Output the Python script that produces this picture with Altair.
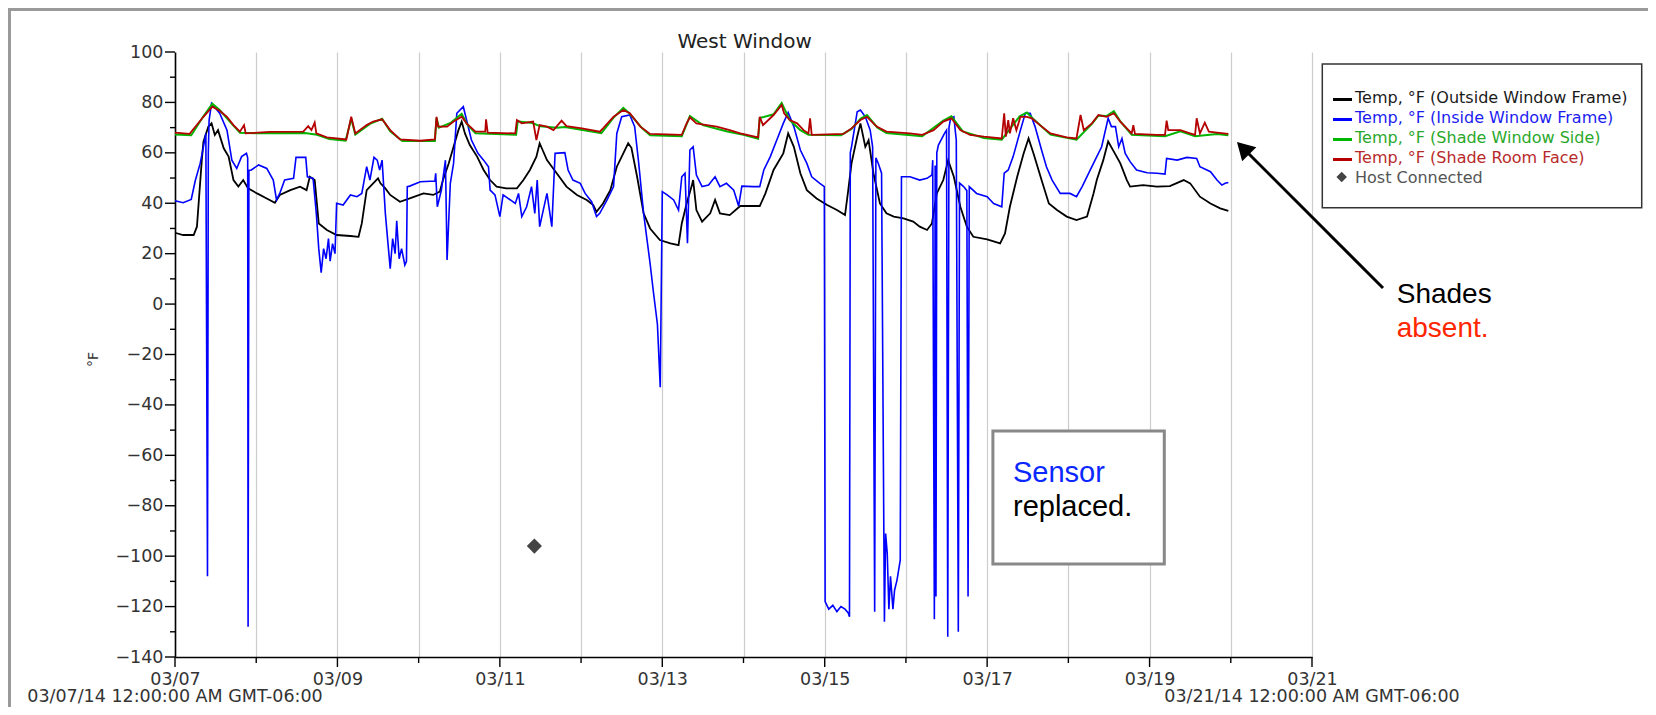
import altair as alt
import pandas as pd

# ---------------- data ----------------
tick_labels = ["03/07", "", "03/09", "", "03/11", "", "03/13", "", "03/15", "", "03/17", "", "03/19", "", "03/21"]
x_tick_days = list(range(15))
x_major_days = list(range(0, 15, 2))
x_minor_days = list(range(1, 15, 2))
y_major_values = list(range(-140, 101, 20))
y_minor_values = list(range(-130, 91, 20))
range_days = [0, 14]
range_labels = ["03/07/14 12:00:00 AM GMT-06:00", "03/21/14 12:00:00 AM GMT-06:00"]

series_names = ["Temp, °F (Outside Window Frame)", "Temp, °F (Inside Window Frame)",
                "Temp, °F (Shade Window Side)", "Temp, °F (Shade Room Face)"]
series_colors = ["#000000", "#0000ff", "#00b400", "#b40000"]
label_colors = ["#1a1a1a", "#1c1cf0", "#2aa82a", "#b82a2a"]

outside_day = [0.00, 0.10, 0.23, 0.27, 0.33, 0.35, 0.41, 0.45, 0.49, 0.53, 0.60, 0.66, 0.72, 0.78, 0.84, 0.90,
               1.01, 1.13, 1.23, 1.29, 1.42, 1.54, 1.62, 1.66, 1.72, 1.77, 1.87, 1.99, 2.16, 2.26, 2.30, 2.36,
               2.44, 2.50, 2.53, 2.59, 2.65, 2.77, 2.89, 3.06, 3.18, 3.26, 3.30, 3.37, 3.43, 3.49, 3.53, 3.57,
               3.63, 3.72, 3.80, 3.88, 3.96, 4.08, 4.21, 4.29, 4.37, 4.45, 4.49, 4.58, 4.70, 4.82, 4.95, 5.07,
               5.15, 5.19, 5.27, 5.36, 5.44, 5.52, 5.58, 5.62, 5.69, 5.77, 5.85, 5.97, 6.10, 6.20, 6.24, 6.30,
               6.36, 6.38, 6.42, 6.49, 6.59, 6.65, 6.71, 6.83, 6.96, 7.20, 7.27, 7.37, 7.49, 7.55, 7.62, 7.70,
               7.78, 7.90, 8.03, 8.15, 8.25, 8.29, 8.33, 8.40, 8.44, 8.50, 8.54, 8.60, 8.68, 8.76, 8.85, 8.97,
               9.09, 9.17, 9.26, 9.32, 9.38, 9.46, 9.52, 9.59, 9.67, 9.75, 9.83, 10.00, 10.16, 10.22, 10.28,
               10.37, 10.45, 10.51, 10.57, 10.67, 10.76, 10.86, 10.98, 11.10, 11.23, 11.31, 11.35, 11.43, 11.49,
               11.56, 11.64, 11.72, 11.76, 11.92, 12.09, 12.25, 12.42, 12.50, 12.62, 12.75, 12.87, 12.97]
outside_temp = [28.3, 27.4, 27.4, 30.7, 57.1, 64.4, 70.4, 71.7, 67.1, 69.0, 61.8, 58.5, 49.2, 46.6, 49.2, 45.9,
                43.9, 41.9, 40.2, 43.3, 45.2, 46.6, 45.2, 50.5, 49.2, 32.0, 29.4, 27.4, 27.0, 26.7, 32.0, 45.2,
                47.9, 49.9, 47.9, 45.9, 43.3, 40.6, 41.9, 43.9, 43.3, 44.6, 49.2, 55.8, 62.4, 69.0, 72.4, 67.7,
                63.1, 58.5, 53.2, 49.2, 46.6, 45.9, 45.9, 49.2, 53.2, 58.5, 63.8, 57.1, 51.9, 46.6, 43.3, 41.3,
                39.3, 36.6, 39.9, 45.2, 54.5, 59.8, 63.8, 62.0, 50.5, 36.0, 30.0, 25.4, 24.1, 23.4, 32.0, 39.9,
                46.6, 49.2, 37.3, 32.7, 36.0, 41.3, 36.0, 35.3, 38.9, 38.9, 43.9, 53.2, 59.8, 67.7, 62.4, 51.9,
                45.2, 41.9, 39.3, 37.3, 35.3, 45.2, 55.8, 66.4, 71.7, 62.4, 65.0, 51.9, 39.9, 36.0, 34.7, 34.0,
                32.7, 30.7, 29.4, 32.0, 43.9, 49.2, 57.1, 50.5, 38.6, 30.7, 26.7, 25.7, 24.1, 28.0, 38.6,
                50.5, 59.8, 65.7, 59.8, 49.2, 39.9, 37.3, 34.7, 33.3, 34.7, 43.9, 49.2, 57.1, 64.5,
                60.5, 55.8, 49.2, 46.6, 47.2, 46.6, 46.8, 49.2, 47.9, 42.6, 39.9, 38.0, 37.0]

inside_day = [0.00, 0.10, 0.20, 0.25, 0.31, 0.35, 0.38, 0.40, 0.41, 0.42, 0.45, 0.55, 0.64, 0.70, 0.76, 0.82,
              0.88, 0.895, 0.90, 0.91, 0.94, 1.03, 1.13, 1.21, 1.25, 1.29, 1.35, 1.46, 1.49, 1.61, 1.63, 1.70,
              1.74, 1.77, 1.80, 1.83, 1.86, 1.89, 1.91, 1.94, 1.97, 1.99, 2.07, 2.16, 2.24, 2.30, 2.36, 2.40,
              2.45, 2.49, 2.52, 2.55, 2.59, 2.62, 2.65, 2.68, 2.71, 2.73, 2.76, 2.79, 2.83, 2.85, 2.86, 2.89,
              3.02, 3.20, 3.21, 3.23, 3.28, 3.33, 3.35, 3.39, 3.43, 3.47, 3.55, 3.59, 3.65, 3.73, 3.80, 3.86,
              3.88, 3.94, 4.00, 4.04, 4.13, 4.19, 4.23, 4.27, 4.33, 4.39, 4.43, 4.46, 4.49, 4.58, 4.64, 4.68,
              4.80, 4.84, 4.90, 4.99, 5.05, 5.13, 5.19, 5.23, 5.32, 5.40, 5.44, 5.50, 5.60, 5.66, 5.71, 5.77,
              5.85, 5.89, 5.94, 5.975, 6.00, 6.06, 6.14, 6.20, 6.24, 6.28, 6.31, 6.34, 6.38, 6.42, 6.49, 6.57,
              6.65, 6.71, 6.79, 6.88, 6.94, 6.98, 7.12, 7.20, 7.25, 7.33, 7.41, 7.49, 7.55, 7.62, 7.70, 7.78,
              7.84, 7.94, 7.995, 8.005, 8.05, 8.10, 8.15, 8.20, 8.25, 8.29, 8.305, 8.315, 8.33, 8.40, 8.44,
              8.50, 8.56, 8.59, 8.615, 8.63, 8.66, 8.70, 8.735, 8.75, 8.77, 8.79, 8.81, 8.84, 8.86, 8.89, 8.93,
              8.945, 9.05, 9.17, 9.26, 9.32, 9.33, 9.35, 9.36, 9.37, 9.38, 9.40, 9.48, 9.50, 9.515, 9.53, 9.55,
              9.59, 9.62, 9.645, 9.66, 9.71, 9.75, 9.765, 9.78, 9.87, 10.00, 10.08, 10.18, 10.21, 10.26, 10.32,
              10.41, 10.47, 10.53, 10.59, 10.67, 10.73, 10.80, 10.90, 11.02, 11.10, 11.17, 11.27, 11.35, 11.41,
              11.49, 11.53, 11.58, 11.62, 11.66, 11.70, 11.76, 11.84, 11.97, 12.09, 12.19, 12.21, 12.34, 12.46,
              12.58, 12.62, 12.75, 12.83, 12.89, 12.93, 12.97]
inside_temp = [41.0, 40.2, 41.5, 49.0, 55.8, 62.4, 67.7, -108.0, 60.0, 73.0, 79.6, 75.7, 69.0, 57.1, 53.8, 58.5,
               59.8, 58.0, -128.0, 53.0, 53.2, 55.2, 53.8, 49.2, 41.3, 43.9, 49.2, 49.9, 58.2, 58.2, 50.5, 49.9,
               36.0, 22.0, 12.5, 22.0, 18.0, 26.0, 17.0, 24.0, 20.0, 40.0, 39.3, 43.3, 42.6, 43.9, 54.5, 49.2,
               58.2, 57.1, 53.2, 57.1, 36.0, 25.0, 14.0, 26.0, 20.0, 33.0, 18.0, 22.0, 15.5, 17.0, 46.6, 46.8,
               48.5, 48.8, 51.9, 38.6, 45.2, 57.1, 17.5, 47.9, 55.8, 75.7, 78.3, 73.0, 65.1, 59.8, 57.1, 54.5,
               45.2, 43.3, 34.7, 43.3, 41.3, 39.9, 43.9, 34.7, 38.6, 46.6, 36.0, 49.2, 30.7, 43.9, 30.7, 59.8,
               60.1, 53.2, 49.2, 47.9, 43.9, 40.6, 34.7, 36.0, 41.3, 46.6, 67.7, 74.3, 75.0, 70.4, 55.8, 36.0,
               16.1, 5.0, -8.0, -33.0, 44.6, 43.3, 41.3, 37.3, 50.5, 51.9, 24.1, 61.1, 62.4, 51.2, 46.6, 47.2,
               50.5, 46.6, 47.9, 45.2, 38.9, 46.8, 46.6, 46.6, 53.2, 58.5, 65.1, 71.7, 76.0, 70.4, 61.1, 55.8,
               50.5, 47.9, 46.6, -118.0, -121.0, -119.5, -122.0, -120.0, -121.0, -122.5, -124.0, 60.0, 62.4, 76.3, 77.0,
               74.3, 69.0, 62.4, -122.0, 58.0, 55.8, 51.9, -126.0, -91.0, -99.0, -121.0, -108.0, -121.0, -113.5, -109.5, -101.6,
               50.5, 50.5, 49.2, 49.9, 51.2, 57.1, -125.0, 55.0, -116.0, 60.0, 63.1, 68.0, 69.0, -132.0, 70.0, 73.7,
               74.3, 65.0, -130.0, 48.0, 46.6, 45.0, -116.0, 46.6, 43.9, 42.6, 39.9, 38.6, 51.9, 53.2, 58.5,
               69.0, 75.7, 75.7, 70.4, 61.1, 54.5, 49.2, 43.9, 43.9, 42.6, 46.6, 53.2, 58.5, 62.4,
               73.7, 70.4, 70.4, 62.4, 65.7, 59.8, 56.5, 53.2, 52.1, 51.9, 51.6, 57.8, 57.1, 58.2,
               57.8, 54.5, 52.5, 49.2, 47.2, 47.9, 48.2]

shadewin_day = [0.00, 0.20, 0.35, 0.46, 0.55, 0.70, 0.80, 1.00, 1.60, 1.75, 1.90, 2.10, 2.17, 2.22, 2.40, 2.55,
                2.65, 2.80, 3.20, 3.22, 3.25, 3.40, 3.53, 3.60, 3.70, 4.20, 4.22, 4.40, 4.50, 4.70, 4.80, 5.00,
                5.25, 5.40, 5.52, 5.60, 5.75, 5.85, 6.24, 6.34, 6.50, 6.80, 7.00, 7.18, 7.20, 7.37, 7.47, 7.57,
                7.70, 7.80, 8.20, 8.33, 8.44, 8.52, 8.65, 8.76, 9.20, 9.46, 9.56, 9.70, 9.96, 10.18, 10.40, 10.49,
                10.55, 10.78, 11.10, 11.29, 11.37, 11.47, 11.56, 11.64, 11.78, 12.19, 12.38, 12.56, 12.83, 12.97]
shadewin_temp = [67.3, 67.0, 74.5, 79.5, 77.0, 71.5, 68.0, 67.8, 67.9, 67.2, 65.5, 64.8, 73.5, 67.2, 71.5, 73.5,
                 68.5, 64.7, 64.7, 73.8, 70.0, 72.0, 75.5, 71.2, 67.8, 67.2, 72.5, 71.8, 70.5, 70.0, 70.2, 69.2,
                 67.8, 74.0, 77.8, 75.5, 69.8, 67.0, 66.6, 74.6, 71.0, 68.5, 67.2, 65.6, 73.8, 75.3, 79.8, 73.0,
                 69.0, 67.2, 67.0, 69.5, 73.5, 75.0, 70.0, 67.9, 66.6, 72.8, 74.5, 68.5, 65.9, 65.2, 74.5, 76.0,
                 74.0, 67.2, 65.2, 71.5, 74.8, 74.6, 76.5, 72.5, 67.2, 66.6, 68.5, 66.6, 67.5, 67.0]

shaderoom_day = [0.00, 0.18, 0.35, 0.46, 0.55, 0.64, 0.72, 0.80, 0.85, 0.87, 1.17, 1.58, 1.64, 1.68, 1.72, 1.74,
                 1.87, 2.11, 2.17, 2.22, 2.36, 2.44, 2.55, 2.65, 2.77, 3.02, 3.20, 3.22, 3.24, 3.35, 3.43, 3.53,
                 3.59, 3.70, 3.82, 3.83, 3.85, 4.19, 4.21, 4.27, 4.41, 4.45, 4.49, 4.58, 4.66, 4.76, 4.82, 5.01,
                 5.23, 5.27, 5.40, 5.52, 5.60, 5.73, 5.85, 6.24, 6.30, 6.34, 6.42, 6.55, 6.67, 6.83, 6.96, 7.18,
                 7.20, 7.24, 7.37, 7.47, 7.50, 7.57, 7.66, 7.74, 7.80, 7.82, 7.84, 8.23, 8.33, 8.44, 8.52, 8.64,
                 8.76, 9.05, 9.20, 9.34, 9.46, 9.56, 9.67, 9.79, 9.96, 10.18, 10.21, 10.23, 10.26, 10.28, 10.32,
                 10.36, 10.41, 10.49, 10.55, 10.65, 10.78, 10.98, 11.10, 11.15, 11.19, 11.29, 11.37, 11.47, 11.56,
                 11.64, 11.72, 11.78, 11.80, 11.82, 12.09, 12.19, 12.21, 12.23, 12.38, 12.50, 12.56, 12.58, 12.62,
                 12.68, 12.73, 12.83, 12.97]
shaderoom_temp = [68.0, 67.5, 74.3, 78.3, 76.7, 74.3, 71.0, 68.4, 71.0, 67.7, 68.3, 68.4, 70.6, 69.0, 72.0, 67.7,
                  66.1, 65.3, 74.3, 67.7, 71.0, 72.4, 73.3, 69.0, 65.3, 64.8, 65.3, 74.3, 70.4, 70.4, 72.4, 74.3,
                  71.7, 68.4, 68.4, 73.3, 68.0, 67.7, 73.0, 71.7, 72.4, 65.1, 71.0, 70.4, 69.0, 72.8, 70.6, 69.7,
                  68.4, 69.7, 74.3, 77.0, 75.7, 70.4, 67.5, 67.1, 71.7, 74.1, 71.7, 71.0, 70.4, 69.0, 67.7, 66.1,
                  74.3, 71.0, 75.0, 79.0, 75.7, 73.0, 71.7, 69.0, 67.7, 73.7, 67.1, 67.5, 69.7, 73.0, 74.3, 70.4,
                  68.4, 67.7, 67.1, 69.0, 72.4, 73.7, 69.0, 67.1, 66.4, 65.7, 75.7, 66.4, 73.0, 67.7, 73.7,
                  69.0, 74.3, 74.3, 73.7, 71.0, 67.7, 66.1, 65.7, 75.0, 69.0, 71.7, 75.0, 74.3, 75.7,
                  72.4, 69.7, 67.7, 71.0, 67.5, 67.1, 67.1, 72.8, 69.0, 69.0, 67.7, 67.1, 73.7, 67.7,
                  72.0, 68.4, 68.0, 67.5]

host_day = [4.425]
host_temp = [-96.0]

legend_items = series_names + ["Host Connected"]
legend_colors = label_colors + ["#555555"]

# ---------------- chart ----------------
FONT = "DejaVu Sans"
AXIS_FS = 17.5
xs = alt.Scale(domain=[0, 14], nice=False, zero=False)
ys = alt.Scale(domain=[-140, 100], nice=False, zero=False)

# nested ternary: day value -> label text
x_label_expr = "''"
for d in reversed(x_tick_days):
    x_label_expr = "(datum.value == %d ? '%s' : %s)" % (d, tick_labels[d], x_label_expr)

x_axis = alt.Axis(
    values=x_tick_days, labelExpr=x_label_expr, title=None,
    grid=True, gridColor="#cdcdcd", gridWidth=1.2,
    domainColor="#000000", domainWidth=1.6, ticks=False,
    labelFont=FONT, labelFontSize=AXIS_FS, labelColor="#333333", labelPadding=13,
    labelFlush=False, labelOverlap=False, labelBaseline="top")
y_axis = alt.Axis(
    values=y_major_values, title="°F", titleAngle=270, titleX=-82, titleY=307,
    titleFont=FONT, titleFontSize=14, titleFontWeight="normal", titleColor="#333333",
    titleAlign="center", titleBaseline="middle",
    grid=False, domainColor="#000000", domainWidth=1.6, ticks=False, format="d",
    labelFont=FONT, labelFontSize=AXIS_FS, labelColor="#333333", labelPadding=12, labelOverlap=False)


def series_layer(days, temps, color, width):
    df = pd.DataFrame({"day": days, "temp": temps})
    return alt.Chart(df).mark_line(color=color, strokeWidth=width, interpolate="linear").encode(
        x=alt.X("day:Q", scale=xs),
        y=alt.Y("temp:Q", scale=ys),
    )


# a dedicated layer that carries the axes (invisible points)
axis_layer = alt.Chart(pd.DataFrame({"day": range_days, "temp": [0, 0]})).mark_point(opacity=0).encode(
    x=alt.X("day:Q", scale=xs, axis=x_axis),
    y=alt.Y("temp:Q", scale=ys, axis=y_axis),
)

black = series_layer(outside_day, outside_temp, series_colors[0], 1.8)
blue = series_layer(inside_day, inside_temp, series_colors[1], 1.6)
green = series_layer(shadewin_day, shadewin_temp, series_colors[2], 2.0)
red = series_layer(shaderoom_day, shaderoom_temp, series_colors[3], 1.8)


# axis ticks (major / minor)
def x_ticks(days, length):
    return alt.Chart(pd.DataFrame({"day": days})).mark_rule(color="#000000", strokeWidth=1.4).encode(
        x=alt.X("day:Q", scale=xs), y=alt.value(605), y2=alt.value(605 + length))


def y_ticks(vals, length):
    return alt.Chart(pd.DataFrame({"temp": vals})).mark_rule(color="#000000", strokeWidth=1.4).encode(
        y=alt.Y("temp:Q", scale=ys), x=alt.value(-length), x2=alt.value(0))


tick_layers = [x_ticks(x_major_days, 10), x_ticks(x_minor_days, 6),
               y_ticks(y_major_values, 10), y_ticks(y_minor_values, 5)]

host = alt.Chart(pd.DataFrame({"day": host_day, "temp": host_temp})).mark_point(
    shape="diamond", filled=True, size=230, color="#444444", opacity=1).encode(
    x=alt.X("day:Q", scale=xs), y=alt.Y("temp:Q", scale=ys))

range_df = pd.DataFrame({"day": range_days, "label": range_labels})
range_text = alt.Chart(range_df).mark_text(
    font=FONT, fontSize=AXIS_FS, color="#333333", align="center", baseline="middle").encode(
    x=alt.X("day:Q", scale=xs), y=alt.value(645), text="label:N")

one = pd.DataFrame({"k": [0]})

title = alt.Chart(pd.DataFrame({"t": ["West Window"]})).mark_text(
    font=FONT, fontSize=20, color="#222222", align="center", baseline="middle").encode(
    x=alt.value(569.6), y=alt.value(-10), text="t:N")

# frame of the screenshot
frame_top = alt.Chart(one).mark_rule(color="#9a9a9a", strokeWidth=3).encode(
    x=alt.value(-167), x2=alt.value(1473), y=alt.value(-42.5))
frame_left = alt.Chart(one).mark_rule(color="#9a9a9a", strokeWidth=3).encode(
    x=alt.value(-165.5), y=alt.value(-44), y2=alt.value(655))

# legend
legend_box = alt.Chart(one).mark_rect(fill="white", stroke="#333333", strokeWidth=1.5).encode(
    x=alt.value(1147.3), x2=alt.value(1466.7), y=alt.value(12), y2=alt.value(155.7))
legend_layers = [legend_box]
for i, (name, col) in enumerate(zip(legend_items, legend_colors)):
    yb = 50.5 + 20 * i
    if i < 4:
        legend_layers.append(alt.Chart(one).mark_rule(color=series_colors[i], strokeWidth=3).encode(
            x=alt.value(1158), x2=alt.value(1177), y=alt.value(yb - 3.0)))
    else:
        legend_layers.append(alt.Chart(one).mark_point(
            shape="diamond", filled=True, size=110, color="#444444", opacity=1).encode(
            x=alt.value(1166.7), y=alt.value(yb - 5.5)))
    legend_layers.append(alt.Chart(pd.DataFrame({"t": [name]})).mark_text(
        font=FONT, fontSize=16, color=col, align="left", baseline="alphabetic").encode(
        x=alt.value(1180), y=alt.value(yb), text="t:N"))

# arrow and notes
arrow_line = alt.Chart(one).mark_rule(color="#000000", strokeWidth=3).encode(
    x=alt.value(1208), y=alt.value(236), x2=alt.value(1069), y2=alt.value(97))
arrow_head = alt.Chart(one).mark_point(
    shape="triangle-up", filled=True, size=400, angle=315, color="#000000", opacity=1).encode(
    x=alt.value(1068.1), y=alt.value(96.1))

NOTE_FONT = "Liberation Sans"
shades = alt.Chart(pd.DataFrame({"t": ["Shades"]})).mark_text(
    font=NOTE_FONT, fontSize=28, color="#000000", align="left", baseline="alphabetic").encode(
    x=alt.value(1221.7), y=alt.value(251.3), text="t:N")
absent = alt.Chart(pd.DataFrame({"t": ["absent."]})).mark_text(
    font=NOTE_FONT, fontSize=28, color="#ff2600", align="left", baseline="alphabetic").encode(
    x=alt.value(1221.7), y=alt.value(284.7), text="t:N")

sensor_box = alt.Chart(one).mark_rect(fill="white", stroke="#888888", strokeWidth=3).encode(
    x=alt.value(817.9), x2=alt.value(989.3), y=alt.value(379), y2=alt.value(512))
sensor = alt.Chart(pd.DataFrame({"t": ["Sensor"]})).mark_text(
    font=NOTE_FONT, fontSize=29, color="#0a28ff", align="left", baseline="alphabetic").encode(
    x=alt.value(838), y=alt.value(430), text="t:N")
replaced = alt.Chart(pd.DataFrame({"t": ["replaced."]})).mark_text(
    font=NOTE_FONT, fontSize=29, color="#000000", align="left", baseline="alphabetic").encode(
    x=alt.value(838), y=alt.value(464), text="t:N")

chart = alt.layer(
    axis_layer, black, blue, green, red, *tick_layers, host, range_text, title, frame_top, frame_left,
    *legend_layers, arrow_line, arrow_head, shades, absent, sensor_box, sensor, replaced
).properties(
    width=1137, height=605,
    autosize=alt.AutoSizeParams(type="none"),
    padding={"left": 167, "top": 44, "right": 336, "bottom": 50},
    background="white",
).configure_view(stroke=None)

chart.save("out.html", embed_options={"renderer": "svg", "actions": False})
